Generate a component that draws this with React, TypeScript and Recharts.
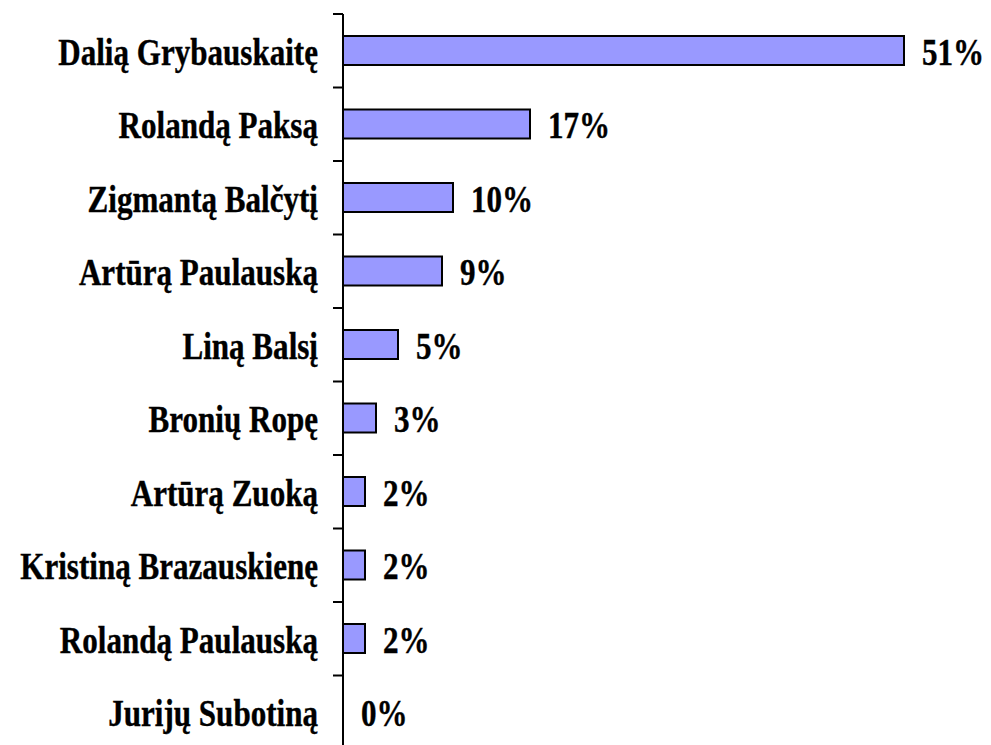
import React from "react";
import { BarChart, Bar, XAxis, YAxis, LabelList } from "recharts";

const categories = [
  "Dalią Grybauskaitę",
  "Rolandą Paksą",
  "Zigmantą Balčytį",
  "Artūrą Paulauską",
  "Liną Balsį",
  "Bronių Ropę",
  "Artūrą Zuoką",
  "Kristiną Brazauskienę",
  "Rolandą Paulauską",
  "Jurijų Subotiną",
];
const values = [51, 17, 10, 9, 5, 3, 2, 2, 2, 0];

const data = categories.map((name, i) => ({ name, value: values[i] }));

const FONT = "'Liberation Serif', 'Times New Roman', serif";
const SX = 0.84;
const TICK_MARGIN = 25;
const TICK_LEN = 10;

const CatTick = (props: any) => {
  const { x, y, payload, index, visibleTicksCount } = props;
  const axisX = Number(x) + TICK_MARGIN;
  const half = Number(payload?.offset ?? 0);
  const isLast = index === (visibleTicksCount ?? categories.length) - 1;
  return (
    <g>
      <line x1={axisX - TICK_LEN} x2={axisX} y1={y - half} y2={y - half} stroke="#000" strokeWidth={2} />
      {isLast && (
        <line x1={axisX - TICK_LEN} x2={axisX} y1={y + half} y2={y + half} stroke="#000" strokeWidth={2} />
      )}
      <g transform={`translate(${x},${y + 14}) scale(${SX},1)`}>
        <text x={0} y={0} textAnchor="end" fontFamily={FONT} fontWeight="bold" fontSize={37} fill="#000" stroke="#000" strokeWidth={0.4}>
          {payload.value}
        </text>
      </g>
    </g>
  );
};

const ValueLabel = (props: any) => {
  const { x, y, width, height, value } = props;
  const lx = Number(x) + Math.max(0, Number(width)) + 18;
  const ly = Number(y) + Number(height) / 2 + 14;
  return (
    <g transform={`translate(${lx},${ly}) scale(${SX},1)`}>
      <text x={0} y={0} textAnchor="start" fontFamily={FONT} fontWeight="bold" fontSize={37} fill="#000" stroke="#000" strokeWidth={0.4}>
        {`${value}%`}
      </text>
    </g>
  );
};

export default function App() {
  return (
    <div style={{ position: "absolute", left: 0, top: 0, width: 991, height: 745, overflow: "hidden", background: "#fff" }}>
      <BarChart
        width={991}
        height={760}
        data={data}
        layout="vertical"
        margin={{ top: 14, right: 43, bottom: 11, left: 0 }}
      >
        <XAxis type="number" domain={[0, 55]} hide />
        <Bar
          dataKey="value"
          fill="#9999FF"
          stroke="#000"
          strokeWidth={2}
          barSize={29}
          minPointSize={0.01}
          isAnimationActive={false}
        >
          <LabelList dataKey="value" content={<ValueLabel />} />
        </Bar>
        <YAxis
          type="category"
          dataKey="name"
          width={343}
          axisLine={{ stroke: "#000", strokeWidth: 2 }}
          tickLine={false}
          tickSize={0}
          tickMargin={TICK_MARGIN}
          tick={<CatTick />}
          interval={0}
        />
      </BarChart>
    </div>
  );
}
